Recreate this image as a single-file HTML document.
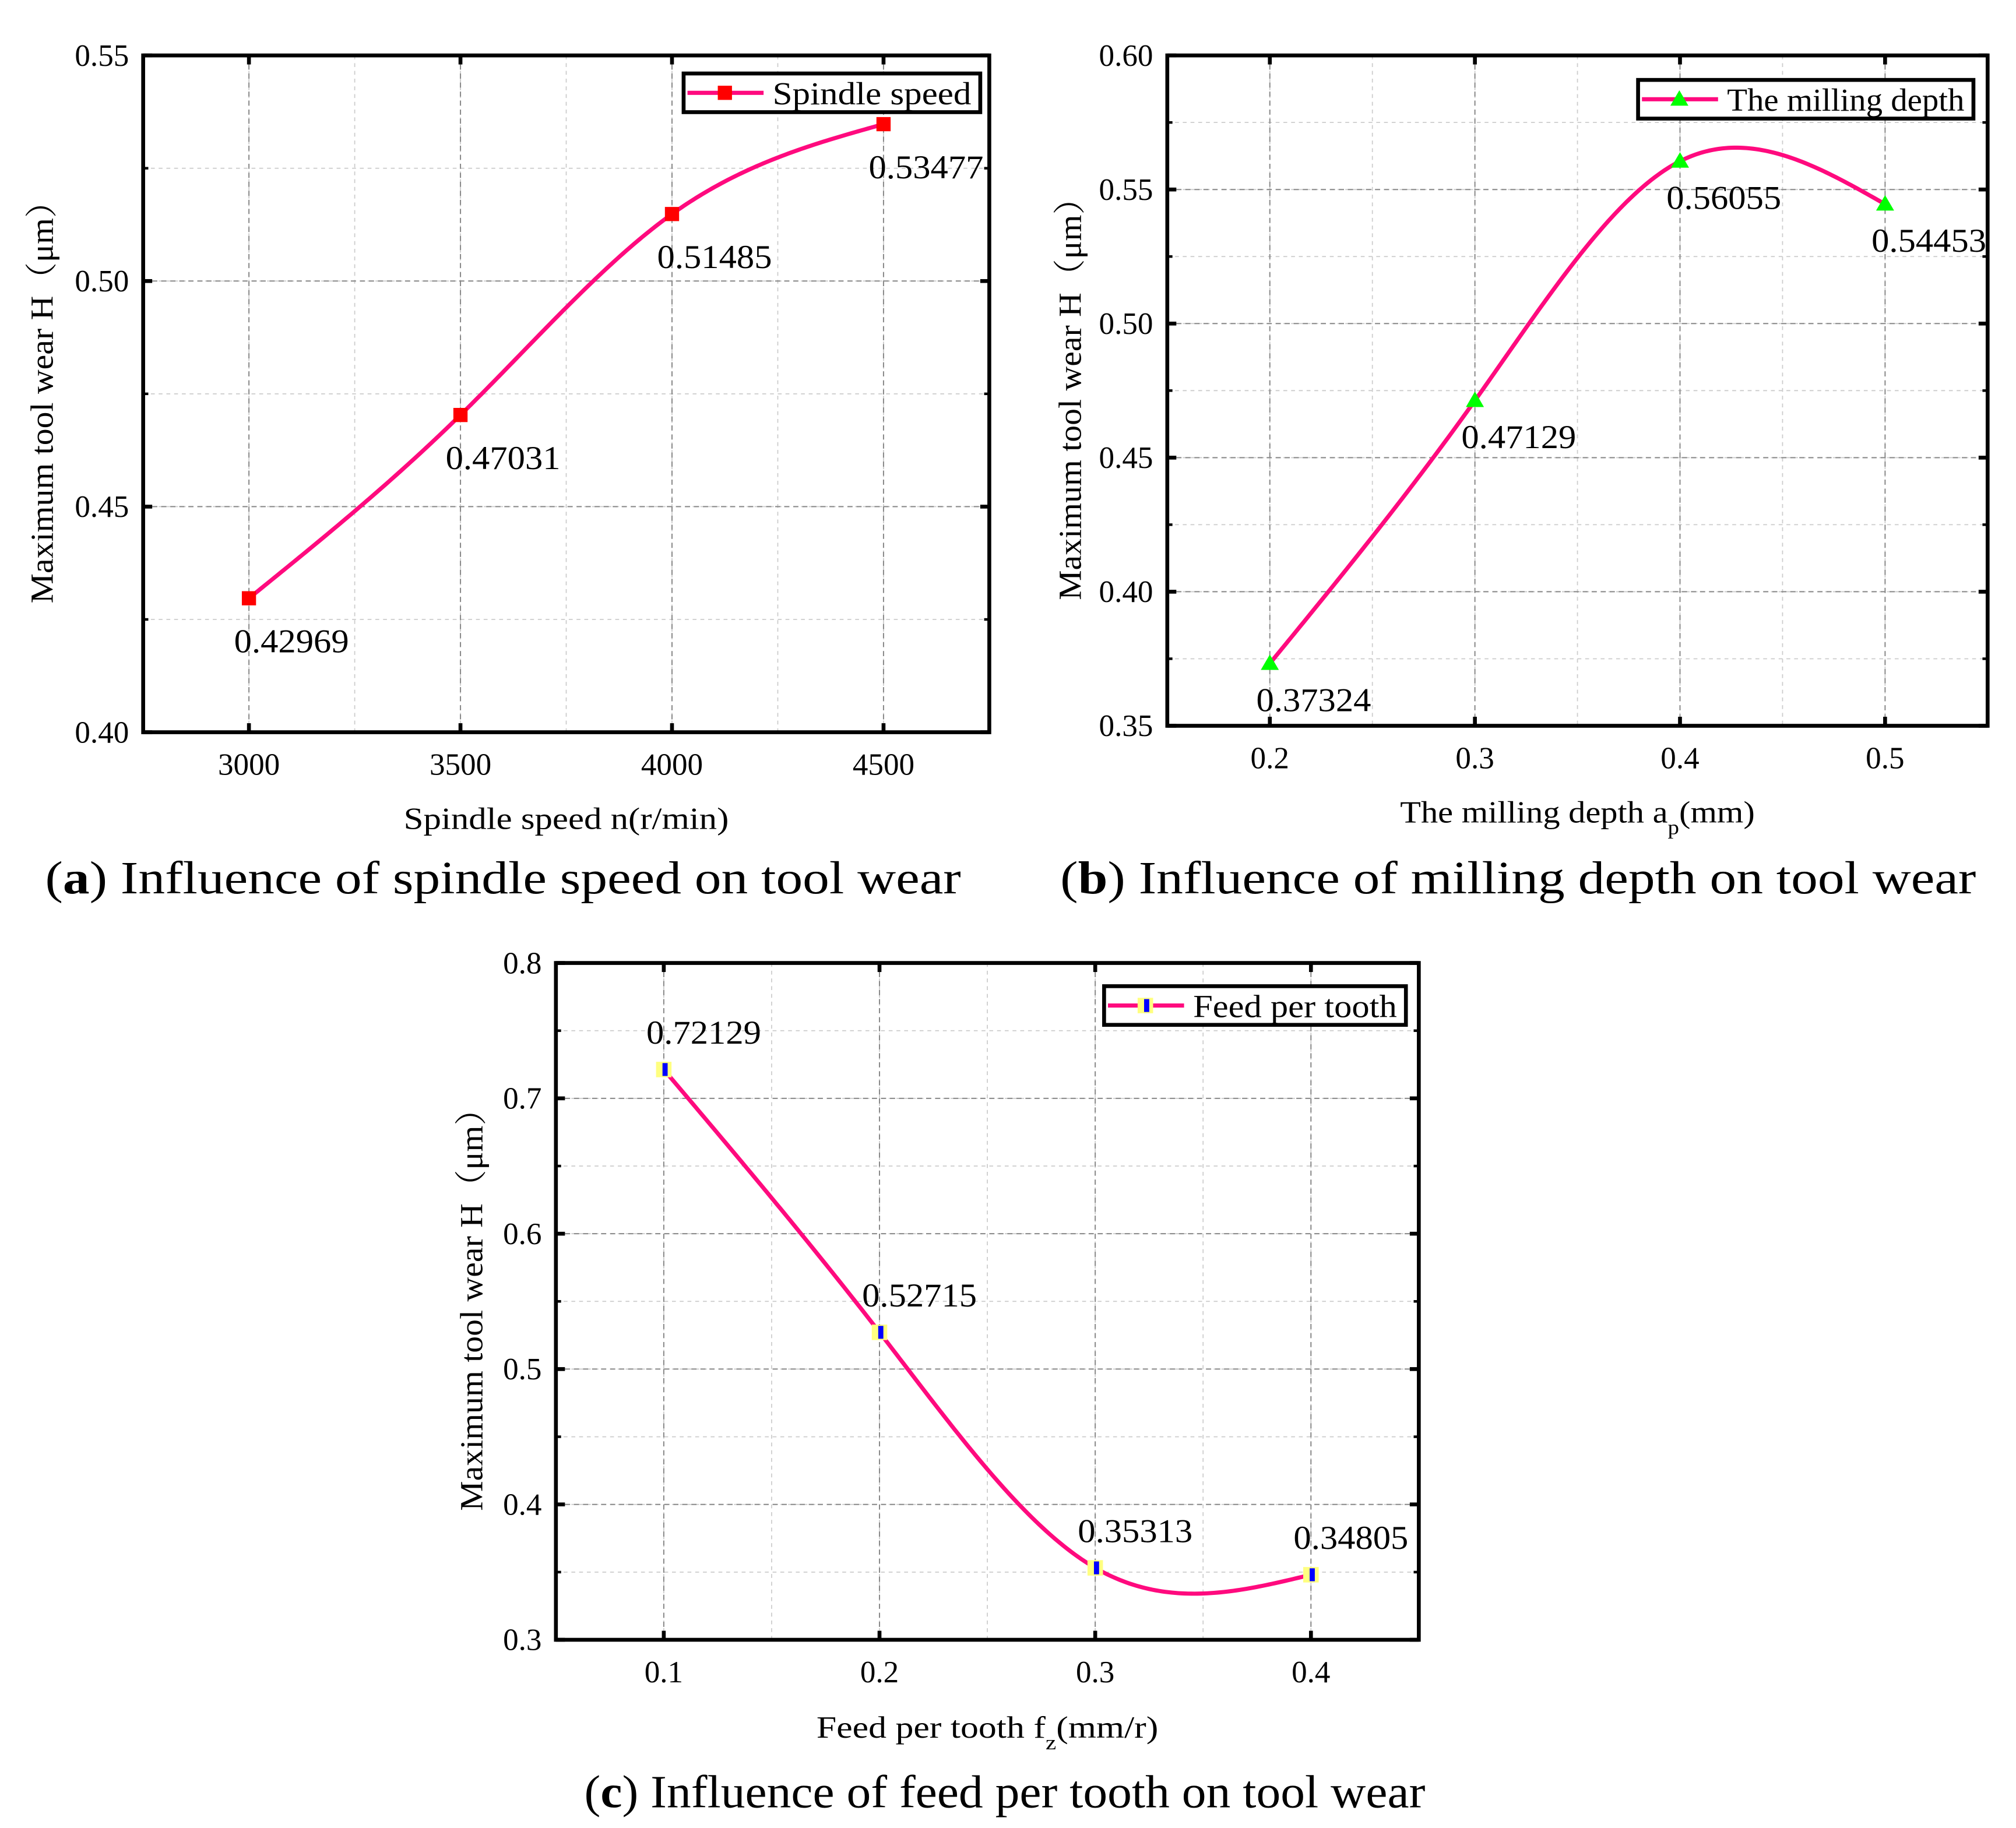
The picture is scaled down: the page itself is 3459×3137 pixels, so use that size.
<!DOCTYPE html>
<html><head><meta charset="utf-8"><style>
html,body{margin:0;padding:0;background:#fff}
svg{display:block}
text{font-family:"Liberation Serif",serif;fill:#000}
</style></head><body>
<svg id="fig" width="3459" height="3137" viewBox="0 0 1563 1418" preserveAspectRatio="none" xmlns="http://www.w3.org/2000/svg">
<rect width="1563" height="1418" fill="#fff"/>
</svg>
<script>
const aCategories=[3000,3500,4000,4500];
const aValues=[0.42969,0.47031,0.51485,0.53477];
const aXTicks=["3000","3500","4000","4500"];
const aYTicks=["0.40","0.45","0.50","0.55"];
const bCategories=[0.2,0.3,0.4,0.5];
const bValues=[0.37324,0.47129,0.56055,0.54453];
const bXTicks=["0.2","0.3","0.4","0.5"];
const bYTicks=["0.35","0.40","0.45","0.50","0.55","0.60"];
const cCategories=[0.1,0.2,0.3,0.4];
const cValues=[0.72129,0.52715,0.35313,0.34805];
const cXTicks=["0.1","0.2","0.3","0.4"];
const cYTicks=["0.3","0.4","0.5","0.6","0.7","0.8"];

const NS="http://www.w3.org/2000/svg";
const svg=document.getElementById('fig');
function mk(tag,attrs,parent){const e=document.createElementNS(NS,tag);for(const k in attrs)e.setAttribute(k,attrs[k]);(parent||svg).appendChild(e);return e;}
function fit(el,len){el.setAttribute('textLength',len);el.setAttribute('lengthAdjust','spacingAndGlyphs');}

function spline(xs,ys){
  const n=xs.length,h=[],al=[],l=[1],mu=[0],z=[0],c=new Array(n).fill(0),b=[],d=[];
  for(let i=0;i<n-1;i++)h.push(xs[i+1]-xs[i]);
  for(let i=1;i<n-1;i++)al[i]=3/h[i]*(ys[i+1]-ys[i])-3/h[i-1]*(ys[i]-ys[i-1]);
  for(let i=1;i<n-1;i++){l[i]=2*(xs[i+1]-xs[i-1])-h[i-1]*mu[i-1];mu[i]=h[i]/l[i];z[i]=(al[i]-h[i-1]*z[i-1])/l[i];}
  for(let j=n-2;j>=0;j--){c[j]=z[j]-mu[j]*c[j+1];b[j]=(ys[j+1]-ys[j])/h[j]-h[j]*(c[j+1]+2*c[j])/3;d[j]=(c[j+1]-c[j])/(3*h[j]);}
  return x=>{let i=0;while(i<n-2&&x>xs[i+1])i++;const t=x-xs[i];return ys[i]+b[i]*t+c[i]*t*t+d[i]*t*t*t;};
}

function panel(cfg){
  const g=mk('g',{});
  
  
  const {L,T,R,B,xmin,xmax,ymin,ymax}=cfg;
  const X=v=>L+(v-xmin)/(xmax-xmin)*(R-L);
  const Y=v=>B-(v-ymin)/(ymax-ymin)*(B-T);
  for(let v=xmin;v<=xmax+1e-9;v+=cfg.xminor){const x=X(v);
    const ln=mk('line',{x1:x,x2:x,y1:T,y2:B,stroke:'#ccc','stroke-width':0.8,'stroke-dasharray':'3,3'},g);
    }
  for(let v=ymin;v<=ymax+1e-9;v+=cfg.yminor){const y=Y(v);
    const ln=mk('line',{x1:L,x2:R,y1:y,y2:y,stroke:'#ccc','stroke-width':0.8,'stroke-dasharray':'3,3'},g);
    }
  cfg.xticks.forEach(t=>{const x=X(parseFloat(t));
    const ln=mk('line',{x1:x,x2:x,y1:T,y2:B,stroke:'#888','stroke-width':0.9,'stroke-dasharray':'4,3'},g);
    
    mk('line',{x1:x,x2:x,y1:B,y2:B-7,stroke:'#000','stroke-width':3},g);
    mk('line',{x1:x,x2:x,y1:T,y2:T+7,stroke:'#000','stroke-width':3},g);
    const tx=mk('text',{x:x,y:B+33,'text-anchor':'middle','font-size':24},g);tx.textContent=t;
    });
  for(let v=xmin+cfg.xminor;v<xmax;v+=cfg.xminor*2){const x=X(v);
    mk('line',{x1:x,x2:x,y1:B,y2:B-4,stroke:'#000','stroke-width':2},g);mk('line',{x1:x,x2:x,y1:T,y2:T+4,stroke:'#000','stroke-width':2},g);}
  cfg.yticks.forEach(t=>{const y=Y(parseFloat(t));
    const ln=mk('line',{x1:L,x2:R,y1:y,y2:y,stroke:'#888','stroke-width':0.9,'stroke-dasharray':'4,3'},g);
    
    mk('line',{x1:L,x2:L+7,y1:y,y2:y,stroke:'#000','stroke-width':3},g);
    mk('line',{x1:R,x2:R-7,y1:y,y2:y,stroke:'#000','stroke-width':3},g);
    const tx=mk('text',{x:L-11,y:y+8,'text-anchor':'end','font-size':24},g);tx.textContent=t;
    });
  for(let v=ymin+cfg.yminor;v<ymax;v+=cfg.yminor*2){const y=Y(v);
    mk('line',{x1:L,x2:L+4,y1:y,y2:y,stroke:'#000','stroke-width':2},g);mk('line',{x1:R,x2:R-4,y1:y,y2:y,stroke:'#000','stroke-width':2},g);}
  const fr=mk('rect',{x:L,y:T,width:R-L,height:B-T,fill:'none',stroke:'#000','stroke-width':3},g);
  
  const f=spline(cfg.cats,cfg.vals);let d='';
  const a=cfg.cats[0],b=cfg.cats[cfg.cats.length-1];
  for(let i=0;i<=200;i++){const v=a+(b-a)*i/200;d+=(i?'L':'M')+X(v).toFixed(2)+','+Y(f(v)).toFixed(2);}
  const p=mk('path',{d:d,fill:'none',stroke:'#FF0A7E','stroke-width':3.2},g);
  
  cfg.cats.forEach((c,i)=>{const x=X(c),y=Y(cfg.vals[i]);
    const m=cfg.marker(x,y,g);
    
    const lb=mk('text',{x:x+cfg.lx,y:y+cfg.ly,'text-anchor':'middle','font-size':26},g);
    lb.textContent=cfg.vals[i].toFixed(5);
    fit(lb,89);
    });
  const lg=mk('g',{},g);
  
  const lw=cfg.leg[2];
  mk('rect',{x:cfg.leg[0],y:cfg.leg[1],width:lw,height:30,fill:'#fff',stroke:'#000','stroke-width':3},lg);
  mk('line',{x1:cfg.leg[0]+3,x2:cfg.leg[0]+62,y1:cfg.leg[1]+15,y2:cfg.leg[1]+15,stroke:'#FF0A7E','stroke-width':3.2},lg);
  cfg.marker(cfg.leg[0]+32,cfg.leg[1]+15,lg);
  const lt=mk('text',{x:cfg.leg[0]+69,y:cfg.leg[1]+24,'font-size':25},lg);lt.textContent=cfg.legText;
  fit(lt,lw-76);
  
  const xt=mk('text',{x:(L+R)/2,y:cfg.xtY,'text-anchor':'middle','font-size':24},g);
  xt.innerHTML=cfg.xTitle;fit(xt,cfg.xtLen);
  
  const yt=mk('text',{x:0,y:0,'text-anchor':'middle','font-size':25,transform:`translate(${cfg.ytX},${(T+B)/2}) rotate(-90)`},g);
  yt.textContent='Maximum tool wear H（μm）';
  yt.style.fontFamily='"Liberation Serif","Noto Serif CJK SC",serif';
  fit(yt,325);
  
  const cp=mk('text',{x:cfg.cap[0],y:cfg.cap[1],'text-anchor':'middle','font-size':36},g);
  cp.innerHTML=cfg.capText;fit(cp,cfg.capLen);
  
}
const sq=(x,y,p)=>mk('rect',{x:x-5.5,y:y-5.5,width:11,height:11,fill:'#f00'},p);
const tri=(x,y,p)=>mk('polygon',{points:`${x},${y-7} ${x-7},${y+5} ${x+7},${y+5}`,fill:'#0f0'},p);
const fd=(x,y,p)=>{const gg=mk('g',{},p);mk('rect',{x:x-6,y:y-6,width:12,height:12,fill:'#ffff80'},gg);mk('rect',{x:x-1,y:y-5,width:4,height:10,fill:'#0000ff'},gg);return gg;};

panel({name:'panel-a-spindle-speed',L:111,T:43,R:767,B:568,xmin:2750,xmax:4750,ymin:0.40,ymax:0.55,xminor:250,yminor:0.025,
  xticks:aXTicks,yticks:aYTicks,cats:aCategories,vals:aValues,marker:sq,lx:33,ly:42,leg:[530,57,230],legText:'Spindle speed',
  xTitle:'Spindle speed n(r/min)',xtLen:252,xtY:643,ytX:41,cap:[390,693],capLen:710,capText:'(<tspan font-weight="bold">a</tspan>) Influence of spindle speed on tool wear'});
panel({name:'panel-b-milling-depth',L:905,T:43,R:1541,B:563,xmin:0.15,xmax:0.55,ymin:0.35,ymax:0.60,xminor:0.05,yminor:0.025,
  xticks:bXTicks,yticks:bYTicks,cats:bCategories,vals:bValues,marker:tri,lx:34,ly:37,leg:[1270,62,260],legText:'The milling depth',
  xTitle:'The milling depth a<tspan baseline-shift="sub" font-size="16">p</tspan>(mm)',xtLen:275,xtY:638,ytX:838,cap:[1177,693],capLen:710,capText:'(<tspan font-weight="bold">b</tspan>) Influence of milling depth on tool wear'});
panel({name:'panel-c-feed-per-tooth',L:431,T:747,R:1100,B:1272,xmin:0.05,xmax:0.45,ymin:0.3,ymax:0.8,xminor:0.05,yminor:0.05,
  xticks:cXTicks,yticks:cYTicks,cats:cCategories,vals:cValues,marker:fd,lx:31,ly:-20,leg:[856,765,234],legText:'Feed per tooth',
  xTitle:'Feed per tooth f<tspan baseline-shift="sub" font-size="16">z</tspan>(mm/r)',xtLen:265,xtY:1348,ytX:374,cap:[779,1402],capLen:652,capText:'(<tspan font-weight="bold">c</tspan>) Influence of feed per tooth on tool wear'});
</script>
</body></html>
